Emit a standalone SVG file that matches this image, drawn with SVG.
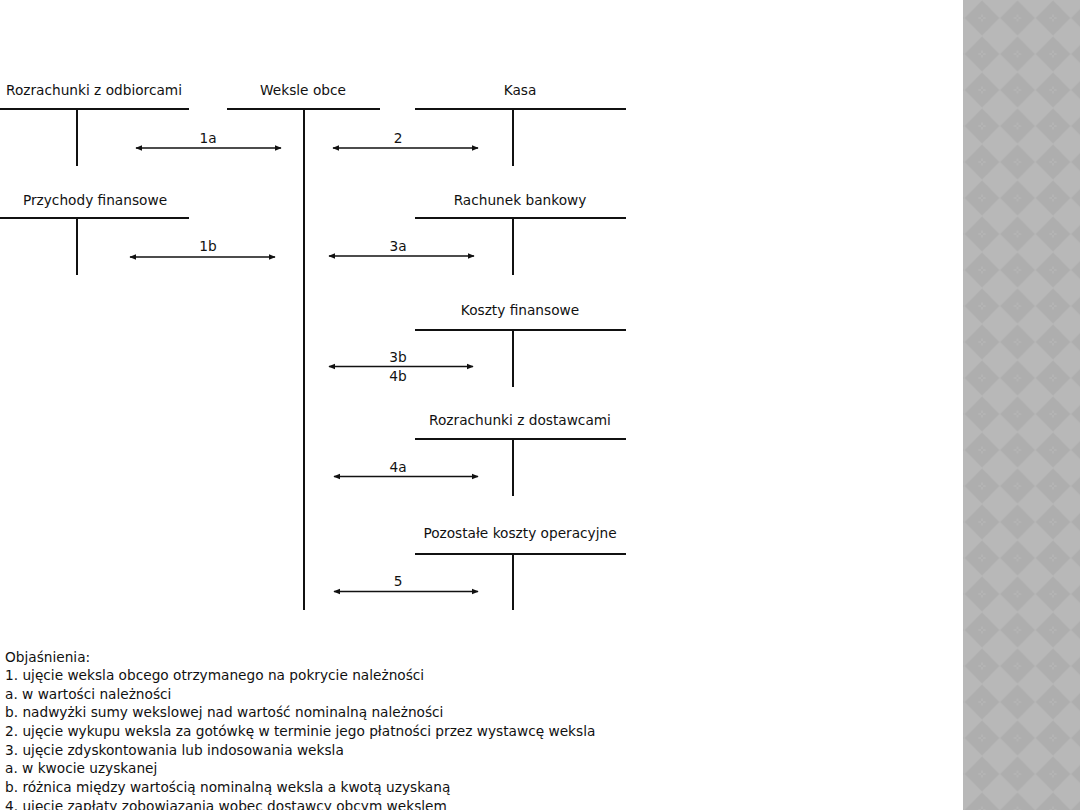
<svg xmlns="http://www.w3.org/2000/svg" width="1080" height="810" viewBox="0 0 1080 810">
<defs>
<style>
.t{font-family:"DejaVu Sans",sans-serif;font-size:13.7px;fill:#111;}
.c{text-anchor:middle;}
.l{font-family:"DejaVu Sans",sans-serif;font-size:13.7px;fill:#111;}
.acc{stroke:#111;stroke-width:2;fill:none;}
.arr{stroke:#111;stroke-width:1.3;fill:none;marker-start:url(#ah);marker-end:url(#ah);}
</style>
<marker id="ah" viewBox="0 0 10 10" refX="9" refY="5" markerWidth="7" markerHeight="7" markerUnits="userSpaceOnUse" orient="auto-start-reverse">
<path d="M0,1 L10,5 L0,9 z" fill="#111"/>
</marker>
<pattern id="dia" patternUnits="userSpaceOnUse" x="964.25" y="0" width="35.5" height="36">
<rect width="35.5" height="36" fill="#b8b8b8"/>
<polygon points="17.75,0.5 35,18 17.75,35.5 0.5,18" fill="#aeaeae" stroke="#b3b3b3" stroke-width="0.6"/>
<path d="M17.75,14.5v2.5M17.75,19v2.5M14.2,18h2.5M18.8,18h2.5" stroke="#bdbdbd" stroke-width="0.8"/>
</pattern>
</defs>
<rect width="1080" height="810" fill="#fff"/>
<rect x="963" y="0" width="117" height="810" fill="url(#dia)"/>

<g id="rozrachunki-odbiorcami">
<text class="t c" x="94" y="95">Rozrachunki z odbiorcami</text>
<path class="acc" d="M0,109H189M77,109V166"/>
</g>
<g id="weksle-obce">
<text class="t c" x="303" y="95">Weksle obce</text>
<path class="acc" d="M227,109H380M304,109V610"/>
</g>
<g id="kasa">
<text class="t c" x="520" y="95">Kasa</text>
<path class="acc" d="M415,109H626M513,109V166"/>
</g>
<g id="przychody-finansowe">
<text class="t c" x="95" y="205">Przychody finansowe</text>
<path class="acc" d="M0,218H189M77,218V275"/>
</g>
<g id="rachunek-bankowy">
<text class="t c" x="520" y="205">Rachunek bankowy</text>
<path class="acc" d="M415,218H626M513,218V275"/>
</g>
<g id="koszty-finansowe">
<text class="t c" x="520" y="315">Koszty finansowe</text>
<path class="acc" d="M415,330H626M513,330V387"/>
</g>
<g id="rozrachunki-dostawcami">
<text class="t c" x="520" y="425">Rozrachunki z dostawcami</text>
<path class="acc" d="M415,439H626M513,439V496"/>
</g>
<g id="pozostale-koszty">
<text class="t c" x="520" y="538">Pozostałe koszty operacyjne</text>
<path class="acc" d="M415,554H626M513,554V610"/>
</g>

<g id="connectors">
<path class="arr" d="M136,148H281"/>
<text class="t c" x="208" y="143">1a</text>
<path class="arr" d="M333,148H478"/>
<text class="t c" x="398" y="143">2</text>
<path class="arr" d="M130,257H275"/>
<text class="t c" x="208" y="251">1b</text>
<path class="arr" d="M329,256H474"/>
<text class="t c" x="398" y="251">3a</text>
<path class="arr" d="M329,366.5H473"/>
<text class="t c" x="398" y="362">3b</text>
<text class="t c" x="398" y="381">4b</text>
<path class="arr" d="M334,476.5H478"/>
<text class="t c" x="398" y="472">4a</text>
<path class="arr" d="M334,591.5H478"/>
<text class="t c" x="398" y="586">5</text>
</g>

<g id="legend">
<text class="l" x="5" y="662">Objaśnienia:</text>
<text class="l" x="5" y="680">1. ujęcie weksla obcego otrzymanego na pokrycie należności</text>
<text class="l" x="5" y="698.5">a. w wartości należności</text>
<text class="l" x="5" y="717">b. nadwyżki sumy wekslowej nad wartość nominalną należności</text>
<text class="l" x="5" y="736">2. ujęcie wykupu weksla za gotówkę w terminie jego płatności przez wystawcę weksla</text>
<text class="l" x="5" y="754.5">3. ujęcie zdyskontowania lub indosowania weksla</text>
<text class="l" x="5" y="773">a. w kwocie uzyskanej</text>
<text class="l" x="5" y="792">b. różnica między wartością nominalną weksla a kwotą uzyskaną</text>
<text class="l" x="5" y="810.5">4. ujęcie zapłaty zobowiązania wobec dostawcy obcym wekslem</text>
</g>
</svg>
